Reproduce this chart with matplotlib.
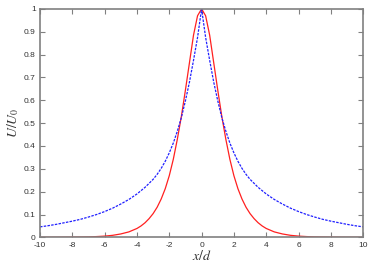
import matplotlib
matplotlib.use("Agg")
import matplotlib.pyplot as plt
import numpy as np

# Read-off values (symmetric profiles, right half; mirrored for x<0)
x_red_half = [0, 0.25, 0.5, 0.75, 1.0, 1.25, 1.5, 1.75, 2.0, 2.25, 2.5, 2.75, 3.0, 3.25,
              3.5, 3.75, 4.0, 4.5, 5.0, 5.5, 6.0, 6.5, 7.0, 8.0, 9.0, 10.0]
u_red_half = [1.0, 0.97, 0.885, 0.765, 0.645, 0.53, 0.43, 0.342, 0.27, 0.213, 0.168, 0.132,
              0.104, 0.082, 0.064, 0.05, 0.039, 0.024, 0.015, 0.009, 0.0055, 0.0035, 0.002,
              0.001, 0.0005, 0.0002]

x_blue_half = [0, 0.25, 0.5, 0.75, 1.0, 1.25, 1.5, 1.75, 2.0, 2.25, 2.5, 2.75, 3.0, 3.5,
               4.0, 4.5, 5.0, 5.5, 6.0, 6.5, 7.0, 7.5, 8.0, 8.5, 9.0, 9.5, 10.0]
u_blue_half = [1.0, 0.875, 0.775, 0.68, 0.598, 0.525, 0.465, 0.413, 0.37, 0.333, 0.302, 0.276,
               0.254, 0.219, 0.19, 0.166, 0.146, 0.128, 0.113, 0.1, 0.089, 0.079, 0.071,
               0.064, 0.057, 0.051, 0.046]

x_ticks = [-10, -8, -6, -4, -2, 0, 2, 4, 6, 8, 10]
y_ticks = [0, 0.1, 0.2, 0.3, 0.4, 0.5, 0.6, 0.7, 0.8, 0.9, 1.0]
y_tick_labels = ["0", "0.1", "0.2", "0.3", "0.4", "0.5", "0.6", "0.7", "0.8", "0.9", "1"]

def mirror(xs, us):
    xs = np.asarray(xs, float)
    us = np.asarray(us, float)
    return np.concatenate([-xs[:0:-1], xs]), np.concatenate([us[:0:-1], us])

xr, ur = mirror(x_red_half, u_red_half)
xb, ub = mirror(x_blue_half, u_blue_half)

plt.rcParams['mathtext.fontset'] = 'stix'
plt.rcParams['font.family'] = ['Liberation Sans', 'DejaVu Sans']
fig = plt.figure(figsize=(3.74, 2.62), dpi=100)
ax = fig.add_axes([0.107, 0.094, 0.864, 0.872])

ax.plot(xr, ur, color='#ff2020', lw=0.9, solid_joinstyle='round')
ax.plot(xb, ub, color='#2020ff', lw=0.9, dashes=(2, 1))

ax.set_xlim(-10, 10)
ax.set_ylim(0, 1)
ax.set_xticks(x_ticks)
ax.set_xticklabels([str(t) for t in x_ticks])
ax.set_yticks(y_ticks)
ax.set_yticklabels(y_tick_labels)
ax.tick_params(direction='in', top=True, right=True, length=3.5, width=0.8,
               color='#808080', labelsize=6, labelcolor='#333333', pad=3)
for s in ax.spines.values():
    s.set_color('#808080')
    s.set_linewidth(1.2)

ax.set_xlabel('$x/d$', fontsize=10, color='#333333', labelpad=0)
ax.set_ylabel('$U/U_0$', fontsize=10, color='#333333', labelpad=2)

fig.savefig('out.png', dpi=100)
